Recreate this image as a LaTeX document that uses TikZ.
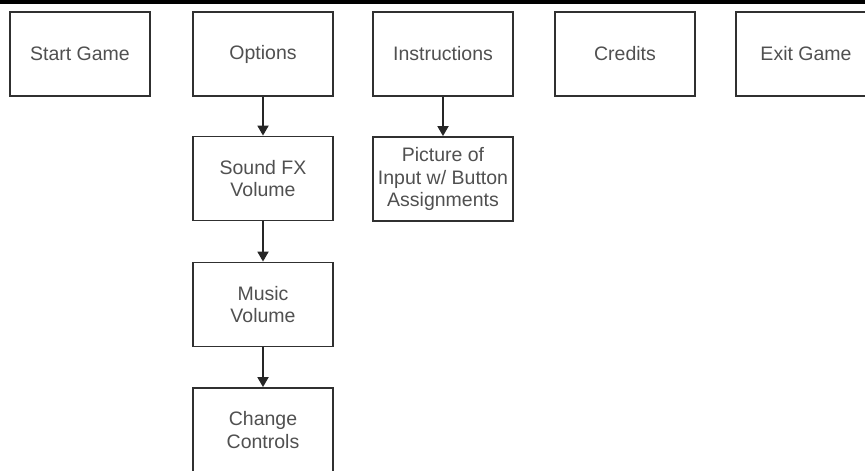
\documentclass[tikz,border=0pt]{standalone}
\usepackage{fontspec}
\setmainfont{Liberation Sans}
\usetikzlibrary{arrows.meta}
\definecolor{boxline}{HTML}{303030}
\definecolor{txt}{HTML}{505050}
\begin{document}
\begin{tikzpicture}[x=1pt,y=1pt,
  menubox/.style={draw=boxline, line width=1.8pt, fill=white, minimum width=140pt, minimum height=84pt,
    inner sep=0pt, align=center, text=txt, font=\fontsize{19.5}{22.5}\selectfont},
  link/.style={draw=black!85, line width=1.8pt, -{Triangle[width=11pt,length=10pt]}}]
\useasboundingbox (0,0) rectangle (865,-471);
\clip (0,0) rectangle (865,-471);
\fill[black] (0,0) rectangle (865,-3.5);
\node[menubox] (start) at (80,-54) {Start Game};
\node[menubox] (options) at (263,-54) {Options};
\node[menubox] (instr) at (443,-54) {Instructions};
\node[menubox] (credits) at (625,-54) {Credits};
\node[menubox] (exit) at (806,-54) {Exit Game};
\node[menubox] (sound) at (263,-178.5) {Sound FX\\Volume};
\node[menubox] (picture) at (443,-179) {Picture of\\Input w/ Button\\Assignments};
\node[menubox] (music) at (263,-304.5) {Music\\Volume};
\node[menubox] (change) at (263,-430) {Change\\Controls};
\draw[link] (options) -- (sound);
\draw[link] (sound) -- (music);
\draw[link] (music) -- (change);
\draw[link] (instr) -- (picture);
\end{tikzpicture}
\end{document}
